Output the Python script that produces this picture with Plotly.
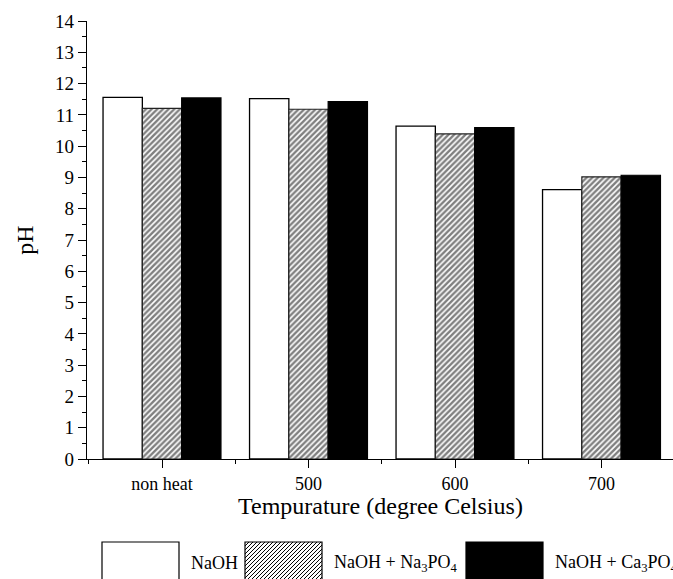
import plotly.graph_objects as go

# ---- data ----
categories = ["non heat", "500", "600", "700"]
series_names = ["NaOH", "NaOH + Na<sub>3</sub>PO<sub>4</sub>", "NaOH + Ca<sub>3</sub>PO<sub>4</sub>"]
naoh = [11.56, 11.52, 10.64, 8.61]
naoh_na3po4 = [11.21, 11.18, 10.39, 9.02]
naoh_ca3po4 = [11.54, 11.42, 10.59, 9.07]
y_ticks = list(range(0, 15))
x_title = "Tempurature (degree Celsius)"
y_title = "pH"

W, H = 673, 579
ML, MR, MT, MB = 87, 0, 21, 120
PW, PH = W - ML - MR, H - MT - MB
FONT = "Liberation Serif"

x_pos = list(range(len(categories)))

fig = go.Figure()
fig.add_trace(go.Bar(x=x_pos, y=naoh, name="NaOH",
                     marker=dict(color="white", line=dict(color="black", width=1.3))))
fig.add_trace(go.Bar(x=x_pos, y=naoh_na3po4, name="NaOH + Na3PO4",
                     marker=dict(color="white",
                                 pattern=dict(shape="/", fgcolor="black", bgcolor="white",
                                              size=4, solidity=0.6),
                                 line=dict(color="#222222", width=1.2))))
fig.add_trace(go.Bar(x=x_pos, y=naoh_ca3po4, name="NaOH + Ca3PO4",
                     marker=dict(color="black", line=dict(color="black", width=1.2))))

# ---- custom legend (large swatches, as in the reference) ----
def px2paper(px, py):
    return (px - ML) / PW, (MT + PH - py) / PH

box_x = [102, 245, 466]
box_w, box_top, box_bot = 77, 542, 585
text_gap = 10
shapes = []
annotations = []
styles = ["white", "hatch", "black"]
for i, (name, st) in enumerate(zip(series_names, styles)):
    x0, x1 = box_x[i], box_x[i] + box_w
    ax0, ay0 = px2paper(x0, box_bot)
    ax1, ay1 = px2paper(x1, box_top)
    fill = "black" if st == "black" else "white"
    shapes.append(dict(type="rect", xref="paper", yref="paper", x0=ax0, x1=ax1, y0=ay0, y1=ay1,
                       fillcolor=fill, line=dict(color="black", width=1.2), layer="above"))
    if st == "hatch":
        segs = []
        step = 4
        c = x0 + box_top
        while c <= x1 + box_bot:
            xa = max(x0, c - box_bot)
            xb = min(x1, c - box_top)
            if xb > xa:
                pa = px2paper(xa, c - xa)
                pb = px2paper(xb, c - xb)
                segs.append(f"M{pa[0]:.5f},{pa[1]:.5f} L{pb[0]:.5f},{pb[1]:.5f}")
            c += step
        shapes.append(dict(type="path", xref="paper", yref="paper", path=" ".join(segs),
                           line=dict(color="black", width=1), layer="above"))
    tx, ty = px2paper(x1 + text_gap, 563)
    annotations.append(dict(xref="paper", yref="paper", x=tx, y=ty, xanchor="left", yanchor="middle",
                            text=name, showarrow=False, font=dict(family=FONT, size=18, color="black")))

# x-axis title placed as an annotation to sit tight under the tick labels
tx, ty = px2paper(ML + PW / 2, 506)
annotations.append(dict(xref="paper", yref="paper", x=tx, y=ty, xanchor="center", yanchor="middle",
                        text=x_title, showarrow=False, font=dict(family=FONT, size=24, color="black")))

fig.update_layout(
    width=W, height=H,
    margin=dict(l=ML, r=MR, t=MT, b=MB, autoexpand=False),
    paper_bgcolor="white", plot_bgcolor="white",
    barmode="group", bargap=0.195, bargroupgap=0,
    showlegend=False,
    font=dict(family=FONT, color="black", size=18),
    shapes=shapes, annotations=annotations,
    hovermode=False,
    xaxis=dict(range=[-0.512, 3.488], tickvals=x_pos, ticktext=categories,
               showline=True, linecolor="black", linewidth=1.3, mirror=False,
               ticks="outside", ticklen=8, tickwidth=1.3, tickcolor="black",
               showgrid=False, zeroline=False,
               minor=dict(tickvals=[-0.5, 0.5, 1.5, 2.5], ticks="outside", ticklen=4,
                          tickwidth=1.3, tickcolor="black", showgrid=False),
               tickfont=dict(family=FONT, size=18),
               automargin=False),
    yaxis=dict(range=[0, 14], tickvals=y_ticks,
               showline=True, linecolor="black", linewidth=1.3,
               ticks="outside", ticklen=8, tickwidth=1.3, tickcolor="black",
               showgrid=False, zeroline=False,
               minor=dict(dtick=0.5, ticks="outside", ticklen=4, tickwidth=1.3,
                          tickcolor="black", showgrid=False),
               tickfont=dict(family=FONT, size=19),
               title=dict(text=y_title, font=dict(family=FONT, size=24), standoff=14),
               automargin=False),
)

fig.write_html("out.html", config={"displayModeBar": False},
               post_script="document.body.style.margin='0';document.body.style.overflow='hidden';")
